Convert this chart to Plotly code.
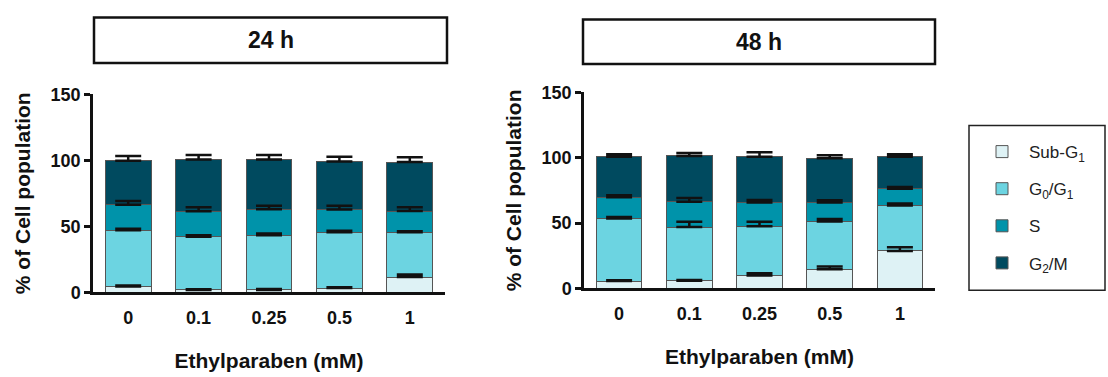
import numpy as np
import plotly.graph_objects as go

categories = ["0", "0.1", "0.25", "0.5", "1"]
phases = ["Sub-G<sub>1</sub>", "G<sub>0</sub>/G<sub>1</sub>", "S", "G<sub>2</sub>/M"]
colors = ["#def2f5", "#6cd4e1", "#0093aa", "#004a5f"]

# 24 h: segment values (bottom to top) and upper error
sub_24 = [4.3, 1.7, 1.7, 3.1, 11.5]
g0g1_24 = [42.7, 40.3, 41.5, 42.3, 34.0]
s_24 = [19.2, 19.4, 19.7, 17.2, 16.0]
g2m_24 = [33.4, 39.2, 37.7, 36.5, 37.1]
sub_24_err = [0.7, 0.5, 0.7, 0.7, 1.9]
g0g1_24_err = [1.0, 1.2, 1.2, 1.2, 0.7]
s_24_err = [2.9, 2.9, 2.6, 2.9, 2.9]
g2m_24_err = [3.6, 3.3, 3.3, 3.6, 3.6]

# 48 h
sub_48 = [5.6, 5.8, 9.9, 14.7, 28.7]
g0g1_48 = [47.8, 41.1, 37.7, 36.5, 34.8]
s_48 = [16.4, 19.5, 18.1, 14.5, 12.8]
g2m_48 = [30.9, 35.0, 35.0, 33.8, 24.4]
sub_48_err = [0.7, 0.7, 1.7, 2.0, 2.7]
g0g1_48_err = [1.2, 4.1, 3.4, 1.9, 1.5]
s_48_err = [1.5, 2.7, 1.9, 1.7, 1.2]
g2m_48_err = [2.0, 2.2, 3.4, 2.4, 2.0]

panel_titles = ["24 h", "48 h"]
y_ticks = [0, 50, 100, 150]
x_title = "Ethylparaben (mM)"
y_title = "% of Cell population"

FONT = "Arial, Liberation Sans, sans-serif"

panels = [
    ([sub_24, g0g1_24, s_24, g2m_24], [sub_24_err, g0g1_24_err, s_24_err, g2m_24_err], "x", "y"),
    ([sub_48, g0g1_48, s_48, g2m_48], [sub_48_err, g0g1_48_err, s_48_err, g2m_48_err], "x2", "y2"),
]

fig = go.Figure()
for pi, (vals, errs, xa, ya) in enumerate(panels):
    for k in range(4):
        fig.add_trace(go.Bar(
            x=categories, y=vals[k], name=phases[k], xaxis=xa, yaxis=ya,
            marker=dict(color=colors[k], line=dict(color="#555555", width=1)),
            width=0.65, showlegend=(pi == 0), legendgroup=phases[k],
            legendrank=k,
        ))
    cum = np.cumsum(np.array(vals), axis=0)
    for k in range(4):
        fig.add_trace(go.Scatter(
            x=categories, y=cum[k], xaxis=xa, yaxis=ya, mode="markers",
            marker=dict(size=1, opacity=0), showlegend=False, hoverinfo="skip",
            error_y=dict(type="data", symmetric=False, array=errs[k],
                         arrayminus=[0] * len(errs[k]), color="#111111",
                         thickness=2.5, width=13),
        ))

xcommon = dict(type="category", range=[-0.5, 4.5], showline=True, linecolor="#111111",
               linewidth=2.5, ticks="", showgrid=False, zeroline=False,
               tickfont=dict(family=FONT, size=18, color="#111111", weight="bold"),
               ticklabelstandoff=7,
               title=dict(text=x_title, standoff=27,
                          font=dict(family=FONT, size=21, color="#111111", weight="bold")))
ycommon = dict(range=[0, 150], tickvals=y_ticks, showline=True, linecolor="#111111",
               linewidth=2.5, ticks="outside", ticklen=6, tickwidth=2.5, tickcolor="#111111",
               showgrid=False, zeroline=False,
               tickfont=dict(family=FONT, size=18, color="#111111", weight="bold"),
               title=dict(text=y_title, standoff=15,
                          font=dict(family=FONT, size=21, color="#111111", weight="bold")))

W, H = 1108, 377
fig.update_layout(
    width=W, height=H, margin=dict(l=0, r=0, t=0, b=0),
    paper_bgcolor="white", plot_bgcolor="white",
    barmode="stack", font=dict(family=FONT, color="#111111"),
    xaxis=dict(domain=[93 / W, 445 / W], anchor="y", **xcommon),
    yaxis=dict(domain=[1 - 298 / H, 1 - 89 / H], anchor="x", **ycommon),
    xaxis2=dict(domain=[584 / W, 935 / W], anchor="y2", **xcommon),
    yaxis2=dict(domain=[1 - 294 / H, 1 - 87 / H], anchor="x2", **ycommon),
    legend=dict(x=975 / W, y=1 - 131 / H, xanchor="left", yanchor="top",
                borderwidth=0, bgcolor="rgba(0,0,0,0)",
                font=dict(family=FONT, size=17, color="#222222"),
                traceorder="grouped", tracegroupgap=12, itemwidth=44),
    shapes=[
        dict(type="rect", xref="paper", yref="paper", x0=94 / W, x1=447 / W,
             y0=1 - 56 / H, y1=1 - 8 / H, line=dict(color="#111111", width=2.5)),
        dict(type="rect", xref="paper", yref="paper", x0=583 / W, x1=935 / W,
             y0=1 - 57 / H, y1=1 - 10 / H, line=dict(color="#111111", width=2.5)),
        dict(type="rect", xref="paper", yref="paper", x0=969 / W, x1=1105 / W,
             y0=1 - 296 / H, y1=1 - 122 / H, line=dict(color="#222222", width=1.5)),
    ],
    annotations=[
        dict(text=panel_titles[0], xref="paper", yref="paper", x=(94 + 447) / 2 / W,
             y=1 - 32 / H, showarrow=False, xanchor="center", yanchor="middle",
             font=dict(family=FONT, size=23, color="#111111", weight="bold")),
        dict(text=panel_titles[1], xref="paper", yref="paper", x=(583 + 935) / 2 / W,
             y=1 - 33.5 / H, showarrow=False, xanchor="center", yanchor="middle",
             font=dict(family=FONT, size=23, color="#111111", weight="bold")),
    ],
)

fig.write_html("out.html")
